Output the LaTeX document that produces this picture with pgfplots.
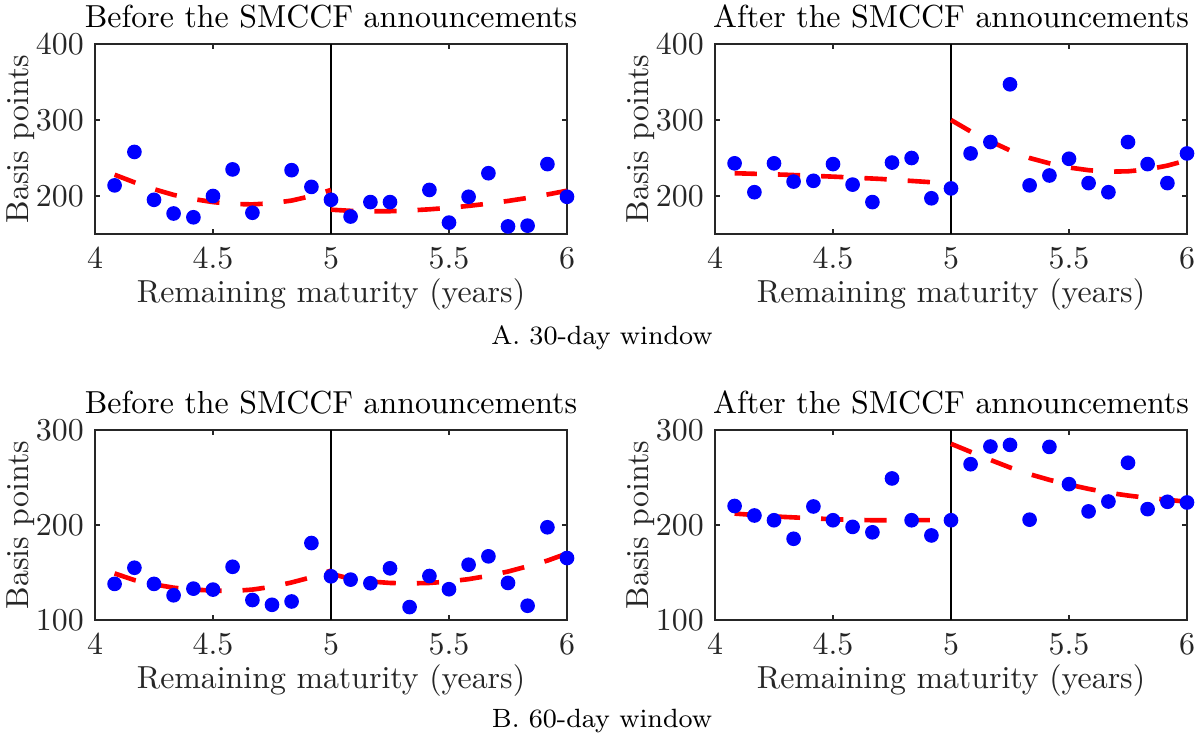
\documentclass[border=0pt]{standalone}
\usepackage{pgfplots}
\pgfplotsset{compat=1.18}
\definecolor{axisgray}{RGB}{38,38,38}
\pgfplotsset{
  panel/.style={
    scale only axis, width=148.21pt, height=59.66pt,
    anchor=north west,
    xmin=4, xmax=6, xtick={4,4.5,5,5.5,6},
    tick align=inside, major tick length=1.5pt,
    axis line style={color=axisgray, line width=0.5pt},
    tick style={color=axisgray, line width=0.5pt},
    ticklabel style={font=\fontsize{10}{12}\selectfont, color=axisgray},
    xticklabel style={yshift=-1pt},
    xlabel={Remaining maturity (years)}, ylabel={Basis points},
    xlabel style={at={(axis description cs:0.5,-0.362)}, anchor=base, color=axisgray, font=\fontsize{10}{12}\selectfont},
    ylabel style={at={(axis description cs:-0.1566,0.5)}, anchor=center, color=axisgray, font=\fontsize{10}{12}\selectfont},
    every axis title/.style={at={(axis description cs:0.5,1.088)}, anchor=base, font=\fontsize{10}{12}\selectfont},
    clip=false,
  },
  pts/.style={only marks, mark=*, mark size=2.1pt, color=blue, fill=blue},
  fit/.style={red, line width=1.45pt, dash pattern=on 7pt off 6.6pt, no marks},
  vline/.style={black, line width=0.5pt, no marks},
}
\begin{document}
\begin{tikzpicture}
\useasboundingbox (0,0) rectangle (377.43pt,-232.36pt);
% ---------- A, before ----------
\begin{axis}[panel, at={(29.83pt,-13.82pt)}, ymin=150, ymax=400, ytick={200,300,400},
  title={Before the SMCCF announcements}]
\addplot[vline] coordinates {(5,150) (5,400)};
\addplot[pts] coordinates {
(4.083,214) (4.167,258) (4.25,195) (4.333,177) (4.417,172) (4.5,200) (4.583,235)
(4.667,178) (4.833,234) (4.917,212) (5.0,195) (5.083,173) (5.167,192) (5.25,192)
(5.417,208) (5.5,165) (5.583,199) (5.667,230) (5.75,160) (5.833,161) (5.917,242) (6.0,199)};
\addplot[fit] coordinates {
(4.083,228) (4.167,218) (4.25,209) (4.333,201.5) (4.417,196) (4.5,192) (4.583,189.5)
(4.667,189) (4.75,190.5) (4.833,194) (4.917,200) (5.0,208)};
\addplot[fit] coordinates {
(5.0,182) (5.083,180.5) (5.167,180) (5.25,180) (5.333,181) (5.417,182.5) (5.5,184.5)
(5.583,187) (5.667,190) (5.75,193.5) (5.833,197.5) (5.917,202) (6.0,207)};
\end{axis}
% ---------- A, after ----------
\begin{axis}[panel, at={(224.51pt,-13.82pt)}, ymin=150, ymax=400, ytick={200,300,400},
  title={After the SMCCF announcements}]
\addplot[vline] coordinates {(5,150) (5,400)};
\addplot[pts] coordinates {
(4.083,243) (4.167,205) (4.25,243) (4.333,219) (4.417,220) (4.5,242) (4.583,215)
(4.667,192) (4.75,244) (4.833,250) (4.917,197) (5.0,210) (5.083,256) (5.167,271)
(5.25,347) (5.333,214) (5.417,227) (5.5,249) (5.583,217) (5.667,205) (5.75,271)
(5.833,242) (5.917,217) (6.0,256)};
\addplot[fit] coordinates {
(4.083,230) (4.3,228) (4.5,225.5) (4.7,222.5) (4.9,218.5) (5.0,215.5)};
\addplot[fit] coordinates {
(5.0,300) (5.083,285) (5.167,272) (5.25,260) (5.333,250) (5.417,243) (5.5,237.5)
(5.583,234) (5.667,232) (5.75,232.5) (5.833,235) (5.917,240) (6.0,247)};
\end{axis}
% ---------- B, before ----------
\begin{axis}[panel, at={(29.83pt,-135.02pt)}, ymin=100, ymax=300, ytick={100,200,300},
  title={Before the SMCCF announcements}]
\addplot[vline] coordinates {(5,100) (5,300)};
\addplot[pts] coordinates {
(4.083,138) (4.167,155) (4.25,138) (4.333,126) (4.417,133) (4.5,132) (4.583,156)
(4.667,121) (4.75,116) (4.833,119.5) (4.917,181) (5.0,146) (5.083,142.5) (5.167,138.7)
(5.25,154.4) (5.333,113.6) (5.417,146.3) (5.5,132.4) (5.583,158.2) (5.667,167)
(5.75,139) (5.833,115) (5.917,197.6) (6.0,165.2)};
\addplot[fit] coordinates {
(4.083,149) (4.167,142) (4.25,137.5) (4.333,134) (4.417,132) (4.5,131) (4.583,130.5)
(4.667,132) (4.75,135) (4.833,139.5) (4.917,145) (5.0,152)};
\addplot[fit] coordinates {
(5.0,148.5) (5.083,143.5) (5.167,140.5) (5.25,139) (5.333,138.5) (5.417,139) (5.5,140.5)
(5.583,143) (5.667,146.5) (5.75,151) (5.833,156.5) (5.917,162.5) (6.0,170)};
\end{axis}
% ---------- B, after ----------
\begin{axis}[panel, at={(224.51pt,-135.02pt)}, ymin=100, ymax=300, ytick={100,200,300},
  title={After the SMCCF announcements}]
\addplot[vline] coordinates {(5,100) (5,300)};
\addplot[pts] coordinates {
(4.083,220) (4.167,210) (4.25,205) (4.333,185.5) (4.417,219.5) (4.5,205) (4.583,198)
(4.667,192.3) (4.75,249) (4.833,205) (4.917,189) (5.0,205) (5.083,264) (5.167,282.6)
(5.25,284.3) (5.333,205.6) (5.417,282.2) (5.5,243) (5.583,214.3) (5.667,224.7)
(5.75,265.5) (5.833,216.7) (5.917,224.4) (6.0,223.7)};
\addplot[fit] coordinates {
(4.083,212) (4.167,210.5) (4.25,209) (4.333,208) (4.417,207) (4.5,206) (4.583,205.5)
(4.667,205) (4.75,205) (4.833,205) (4.917,205.2) (5.0,205.5)};
\addplot[fit] coordinates {
(5.0,285.5) (5.083,277) (5.167,268.5) (5.25,260.5) (5.333,253.5) (5.417,247.5) (5.5,242.5)
(5.583,238) (5.667,234) (5.75,231) (5.833,228.5) (5.917,226.5) (6.0,224.5)};
\end{axis}
\node[font=\fontsize{8.3}{10}\selectfont, anchor=center] at (189.03pt,-106.13pt) {A. 30-day window};
\node[font=\fontsize{8.3}{10}\selectfont, anchor=center] at (189.03pt,-226.4pt) {B. 60-day window};
\end{tikzpicture}
\end{document}
